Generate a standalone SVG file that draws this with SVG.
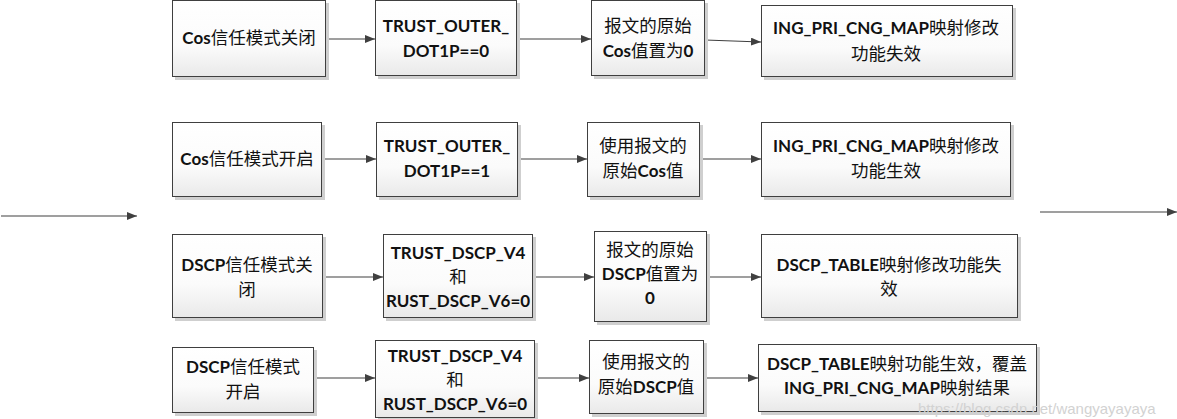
<svg xmlns="http://www.w3.org/2000/svg" width="1177" height="419" viewBox="0 0 1177 419">
<style>
.box{fill:url(#g);stroke:#3f3f3f;stroke-width:1}
.sh{fill:#cfcfcf}
.t{font-family:Lato,"Noto Sans CJK SC",sans-serif;font-size:17px;font-weight:bold;fill:#111;text-anchor:middle}
.c{font-family:"Noto Sans CJK SC",sans-serif;font-weight:normal;font-size:17.5px}
.ln{stroke:#404040;stroke-width:1.2;fill:none;marker-end:url(#a)}
.wm{font-family:"Liberation Sans",Arial,sans-serif;font-size:15px;fill:#d2d2d2}
</style>
<defs>
<linearGradient id="g" x1="0" y1="0" x2="0" y2="1">
<stop offset="0" stop-color="#ffffff"/>
<stop offset="0.6" stop-color="#fbfbfb"/>
<stop offset="1" stop-color="#e9e9e9"/>
</linearGradient>
<marker id="a" viewBox="0 0 10 8" refX="10" refY="4" markerWidth="10" markerHeight="8" markerUnits="userSpaceOnUse" orient="auto">
<path d="M0,0 L10,4 L0,8 Z" fill="#404040"/>
</marker>
</defs>

<g id="connectors">
<line class="ln" x1="1" y1="216" x2="137" y2="216"/>
<line class="ln" x1="1040" y1="212" x2="1177" y2="212"/>
<line class="ln" x1="326" y1="39" x2="375" y2="39"/>
<line class="ln" x1="517" y1="39" x2="591" y2="39"/>
<line class="ln" x1="705" y1="40" x2="761" y2="42"/>
<line class="ln" x1="322" y1="159" x2="376" y2="159"/>
<line class="ln" x1="518" y1="159" x2="587" y2="159"/>
<line class="ln" x1="700" y1="159" x2="761" y2="159"/>
<line class="ln" x1="323" y1="277" x2="383" y2="277"/>
<line class="ln" x1="533" y1="277" x2="594" y2="277"/>
<line class="ln" x1="707" y1="277" x2="761" y2="277"/>
<line class="ln" x1="314" y1="378" x2="375" y2="378"/>
<line class="ln" x1="535" y1="378" x2="589" y2="378"/>
<line class="ln" x1="704" y1="378" x2="758" y2="378"/>
</g>

<g id="n-a1">
<rect class="sh" x="175" y="3" width="154" height="77"/>
<rect class="box" x="172.5" y="0.5" width="153" height="76"/>
<text class="t" x="249" y="44">Cos<tspan class="c">信任模式关闭</tspan></text>
</g>
<g id="n-b1">
<rect class="sh" x="378" y="3" width="142" height="76"/>
<rect class="box" x="375.5" y="0.5" width="141" height="75"/>
<text class="t" x="446" y="32">TRUST_OUTER_</text>
<text class="t" x="446" y="57">DOT1P==0</text>
</g>
<g id="n-c1">
<rect class="sh" x="594" y="3" width="114" height="76"/>
<rect class="box" x="591.5" y="0.5" width="113" height="75"/>
<text class="t" x="648" y="32"><tspan class="c">报文的原始</tspan></text>
<text class="t" x="648" y="57">Cos<tspan class="c">值置为</tspan>0</text>
</g>
<g id="n-d1">
<rect class="sh" x="764" y="8" width="252" height="72"/>
<rect class="box" x="761.5" y="5.5" width="251" height="71"/>
<text class="t" x="886" y="34">ING_PRI_CNG_MAP<tspan class="c">映射修改</tspan></text>
<text class="t" x="886" y="60"><tspan class="c">功能失效</tspan></text>
</g>

<g id="n-a2">
<rect class="sh" x="175" y="125" width="150" height="75"/>
<rect class="box" x="172.5" y="122.5" width="149" height="74"/>
<text class="t" x="247" y="165">Cos<tspan class="c">信任模式开启</tspan></text>
</g>
<g id="n-b2">
<rect class="sh" x="379" y="125" width="142" height="75"/>
<rect class="box" x="376.5" y="122.5" width="141" height="74"/>
<text class="t" x="447" y="152">TRUST_OUTER_</text>
<text class="t" x="447" y="177">DOT1P==1</text>
</g>
<g id="n-c2">
<rect class="sh" x="590" y="125" width="113" height="75"/>
<rect class="box" x="587.5" y="122.5" width="112" height="74"/>
<text class="t" x="643" y="152"><tspan class="c">使用报文的</tspan></text>
<text class="t" x="643" y="177"><tspan class="c">原始</tspan>Cos<tspan class="c">值</tspan></text>
</g>
<g id="n-d2">
<rect class="sh" x="764" y="125" width="250" height="75"/>
<rect class="box" x="761.5" y="122.5" width="249" height="74"/>
<text class="t" x="886" y="152">ING_PRI_CNG_MAP<tspan class="c">映射修改</tspan></text>
<text class="t" x="886" y="177"><tspan class="c">功能生效</tspan></text>
</g>

<g id="n-a3">
<rect class="sh" x="175" y="237" width="151" height="84"/>
<rect class="box" x="172.5" y="234.5" width="150" height="83"/>
<text class="t" x="247" y="271">DSCP<tspan class="c">信任模式关</tspan></text>
<text class="t" x="247" y="296"><tspan class="c">闭</tspan></text>
</g>
<g id="n-b3">
<rect class="sh" x="386" y="237" width="150" height="84"/>
<rect class="box" x="383.5" y="234.5" width="149" height="83"/>
<text class="t" x="458" y="259">TRUST_DSCP_V4</text>
<text class="t" x="458" y="283"><tspan class="c">和</tspan></text>
<text class="t" x="458" y="307">RUST_DSCP_V6=0</text>
</g>
<g id="n-c3">
<rect class="sh" x="597" y="234" width="113" height="91"/>
<rect class="box" x="594.5" y="231.5" width="112" height="90"/>
<text class="t" x="650" y="256"><tspan class="c">报文的原始</tspan></text>
<text class="t" x="650" y="280">DSCP<tspan class="c">值置为</tspan></text>
<text class="t" x="650" y="304">0</text>
</g>
<g id="n-d3">
<rect class="sh" x="764" y="237" width="257" height="84"/>
<rect class="box" x="761.5" y="234.5" width="256" height="83"/>
<text class="t" x="889" y="271">DSCP_TABLE<tspan class="c">映射修改功能失</tspan></text>
<text class="t" x="889" y="295"><tspan class="c">效</tspan></text>
</g>

<g id="n-a4">
<rect class="sh" x="175" y="350" width="142" height="66"/>
<rect class="box" x="172.5" y="347.5" width="141" height="65"/>
<text class="t" x="243" y="373">DSCP<tspan class="c">信任模式</tspan></text>
<text class="t" x="243" y="398"><tspan class="c">开启</tspan></text>
</g>
<g id="n-b4">
<rect class="sh" x="378" y="343" width="160" height="78"/>
<rect class="box" x="375.5" y="340.5" width="159" height="77"/>
<text class="t" x="455" y="362">TRUST_DSCP_V4</text>
<text class="t" x="455" y="386"><tspan class="c">和</tspan></text>
<text class="t" x="455" y="410">RUST_DSCP_V6=0</text>
</g>
<g id="n-c4">
<rect class="sh" x="592" y="343" width="115" height="74"/>
<rect class="box" x="589.5" y="340.5" width="114" height="73"/>
<text class="t" x="646" y="368"><tspan class="c">使用报文的</tspan></text>
<text class="t" x="646" y="393"><tspan class="c">原始</tspan>DSCP<tspan class="c">值</tspan></text>
</g>
<g id="n-d4">
<rect class="sh" x="761" y="347" width="279" height="68"/>
<rect class="box" x="758.5" y="344.5" width="278" height="67"/>
<text class="t" x="897" y="370">DSCP_TABLE<tspan class="c">映射功能生效，覆盖</tspan></text>
<text class="t" x="897" y="394">ING_PRI_CNG_MAP<tspan class="c">映射结果</tspan></text>
</g>

<text class="wm" x="918" y="414">https://blog.csdn.net/wangyayayaya</text>
</svg>
